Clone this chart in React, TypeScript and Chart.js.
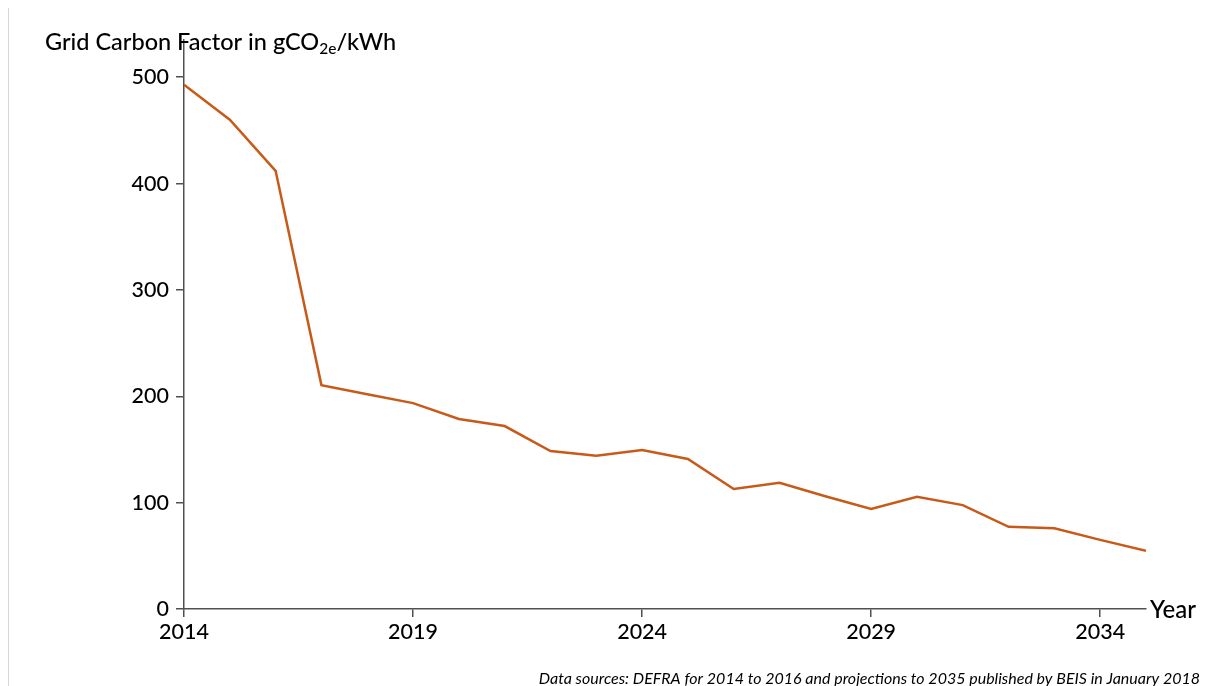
import React, { useEffect, useRef } from "react";
import { Chart, registerables } from "chart.js";

Chart.register(...registerables);

const years = [2014, 2015, 2016, 2017, 2018, 2019, 2020, 2021, 2022, 2023, 2024, 2025, 2026, 2027, 2028, 2029, 2030, 2031, 2032, 2033, 2034, 2035];
const carbonFactor = [493, 460, 412, 210.5, 202, 193.6, 178.6, 172, 148.5, 144, 149.4, 141, 112.8, 118.7, 106, 94, 105.5, 97.7, 77.3, 76, 65, 54.8];
const xTickValues = [2014, 2019, 2024, 2029, 2034];
const yTickValues = [0, 100, 200, 300, 400, 500];

const titleMain = "Grid Carbon Factor in gCO";
const titleSub = "2e";
const titleEnd = "/kWh";
const xAxisLabel = "Year";
const footnote = "Data sources: DEFRA for 2014 to 2016 and projections to 2035 published by BEIS in January 2018";

const FONT = "Lato, 'Open Sans', sans-serif";
const TEXT = "#000000";
const AXIS = "#505050";

const textPlugin = {
  id: "textPlugin",
  afterDraw(chart: any) {
    const ctx = chart.ctx;
    const area = chart.chartArea;
    ctx.save();
    ctx.fillStyle = TEXT;
    ctx.textBaseline = "alphabetic";
    ctx.textAlign = "left";
    // title
    let x = 45;
    const base = 50;
    ctx.font = `500 23.5px ${FONT}`;
    ctx.fillText(titleMain, x, base);
    x += ctx.measureText(titleMain).width;
    ctx.font = `500 15.5px ${FONT}`;
    ctx.fillText(titleSub, x, base + 4);
    x += ctx.measureText(titleSub).width;
    ctx.font = `500 23.5px ${FONT}`;
    ctx.fillText(titleEnd, x, base);
    // x axis label
    ctx.font = `500 24px ${FONT}`;
    ctx.textBaseline = "middle";
    ctx.fillText(xAxisLabel, area.right + 4, area.bottom + 1);
    // footnote
    ctx.font = `italic 16px ${FONT}`;
    ctx.textAlign = "right";
    ctx.textBaseline = "alphabetic";
    ctx.fillText(footnote, 1200, 684);
    ctx.restore();
  },
};

export default function App() {
  const ref = useRef<HTMLCanvasElement | null>(null);
  useEffect(() => {
    if (!ref.current) return;
    const chart = new Chart(ref.current, {
      type: "line",
      data: {
        datasets: [
          {
            data: years.map((y, i) => ({ x: y, y: carbonFactor[i] })),
            borderColor: "#c85a19",
            borderWidth: 2.5,
            pointRadius: 0,
            fill: false,
            tension: 0,
          },
        ],
      },
      options: {
        animation: false,
        responsive: false,
        maintainAspectRatio: false,
        layout: { padding: { left: 0, top: 40, right: 61, bottom: 0 } },
        plugins: { legend: { display: false }, tooltip: { enabled: false }, title: { display: false } },
        scales: {
          x: {
            type: "linear",
            min: 2014,
            max: 2035,
            afterBuildTicks: (scale: any) => {
              scale.ticks = xTickValues.map((v) => ({ value: v }));
            },
            afterFit: (scale: any) => {
              scale.height = 77;
            },
            grid: { display: true, drawOnChartArea: false, drawTicks: true, tickLength: 8, color: AXIS, lineWidth: 1.5 },
            border: { display: true, color: AXIS, width: 1.5 },
            ticks: {
              color: TEXT,
              font: { family: FONT, size: 21.5, weight: "500" },
              padding: 2,
              maxRotation: 0,
              autoSkip: false,
              callback: (v: any) => String(v),
            },
          },
          y: {
            type: "linear",
            min: 0,
            max: 535,
            afterBuildTicks: (scale: any) => {
              scale.ticks = yTickValues.map((v) => ({ value: v }));
            },
            afterFit: (scale: any) => {
              scale.width = 184;
            },
            grid: { display: true, drawOnChartArea: false, drawTicks: true, tickLength: 8, color: AXIS, lineWidth: 1.5 },
            border: { display: true, color: AXIS, width: 1.5 },
            ticks: {
              color: TEXT,
              font: { family: FONT, size: 21.5, weight: "500" },
              padding: 7,
              autoSkip: false,
              callback: (v: any) => String(v),
            },
          },
        },
      },
      plugins: [textPlugin],
    });
    return () => chart.destroy();
  }, []);
  return (
    <div style={{ position: "fixed", left: 0, top: 0, width: 1207, height: 686, background: "#fff" }}>
      <div style={{ position: "absolute", left: 8, top: 8, width: 0, height: 678, borderLeft: "1px solid #d6d6d6" }} />
      <canvas ref={ref} width={1207} height={686} style={{ position: "absolute", left: 0, top: 0, width: 1207, height: 686 }} />
    </div>
  );
}
